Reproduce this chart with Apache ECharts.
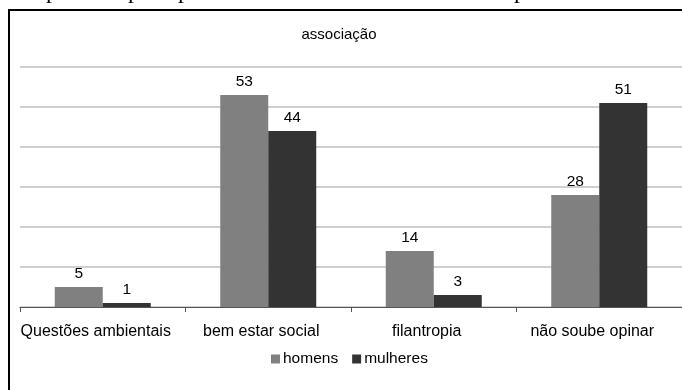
<!DOCTYPE html>
<html>
<head>
<meta charset="utf-8">
<script src="https://cdn.jsdelivr.net/npm/echarts@6/dist/echarts.min.js"></script>
<style>
  html, body { margin: 0; padding: 0; background: #fff; }
  #chart { width: 682px; height: 390px; }
</style>
</head>
<body>
<div id="chart"></div>
<script>
// Survey answers by gender
const categories = ['Questões ambientais', 'bem estar social', 'filantropia', 'não soube opinar'];
const homens = [5, 53, 14, 28];
const mulheres = [1, 44, 3, 51];
const seriesNames = ['homens', 'mulheres'];
const chartTitle = 'associação';

const FONT = 'Liberation Sans, Arial, sans-serif';

const chart = echarts.init(document.getElementById('chart'), null, { renderer: 'canvas' });

// Descenders of the line of body text just above the chart frame
const serifTails = [46, 128, 178, 514].map(x => ({
  type: 'text',
  left: x,
  top: -20,
  silent: true,
  style: { text: 'p', font: '24px "Liberation Serif", serif', fill: '#000' }
}));

const labelStyle = { show: true, position: 'top', distance: 5, fontFamily: FONT, fontSize: 15.5, color: '#000' };

chart.setOption({
  animation: false,
  backgroundColor: '#fff',
  title: {
    text: chartTitle,
    left: 334,
    textAlign: 'center',
    top: 22,
    textStyle: { fontFamily: FONT, fontSize: 15, fontWeight: 'normal', color: '#000' }
  },
  legend: {
    data: seriesNames,
    left: 266,
    top: 346,
    icon: 'rect',
    itemWidth: 9,
    itemHeight: 9,
    itemGap: 14,
    textStyle: { fontFamily: FONT, fontSize: 15.5, color: '#000', padding: [0, 0, 0, -2] }
  },
  grid: { left: 20, top: 67, width: 664, height: 240, containLabel: false },
  xAxis: {
    type: 'category',
    data: categories,
    axisLine: { lineStyle: { color: '#555555', width: 1.2 } },
    axisTick: { show: true, interval: 0, length: 5, lineStyle: { color: '#555555' } },
    axisLabel: {
      interval: 0,
      fontFamily: FONT, fontSize: 16, color: '#000', margin: 17,
      padding: [0, 14, 0, 0]
    }
  },
  yAxis: {
    type: 'value',
    min: 0,
    max: 60,
    interval: 10,
    axisLine: { show: false },
    axisTick: { show: false },
    axisLabel: { show: false },
    splitLine: { lineStyle: { color: '#c0c0c0', width: 1.5 } }
  },
  series: [
    {
      name: seriesNames[0],
      type: 'bar',
      data: homens,
      barGap: '0%',
      barCategoryGap: '42%',
      itemStyle: { color: '#808080' },
      label: labelStyle
    },
    {
      name: seriesNames[1],
      type: 'bar',
      data: mulheres,
      barGap: '0%',
      barCategoryGap: '42%',
      itemStyle: { color: '#333333' },
      label: labelStyle
    }
  ],
  graphic: [
    {
      type: 'rect',
      silent: true,
      shape: { x: 9, y: 10, width: 700, height: 420 },
      style: { fill: 'none', stroke: '#000', lineWidth: 2 }
    },
    ...serifTails
  ]
});
</script>
</body>
</html>
